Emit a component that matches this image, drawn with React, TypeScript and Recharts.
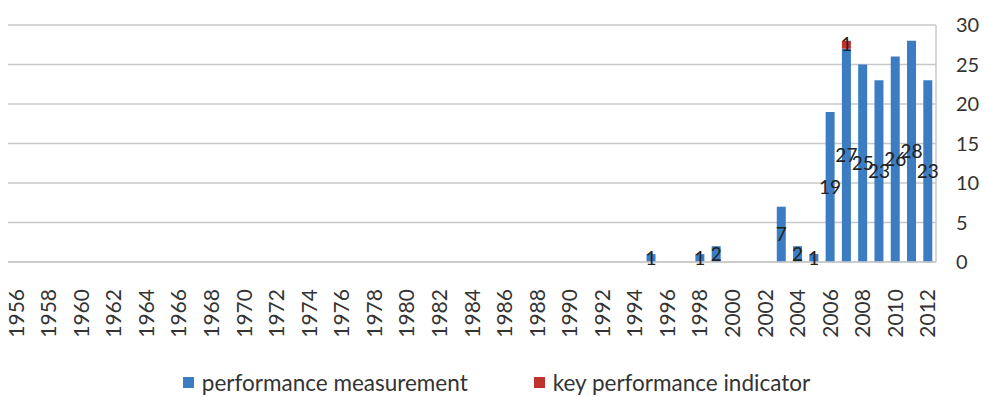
import React from 'react';
import { BarChart, Bar, XAxis, YAxis, CartesianGrid, Legend, LabelList } from 'recharts';

const years = [
  '1956', '1957', '1958', '1959', '1960', '1961', '1962', '1963', '1964', '1965',
  '1966', '1967', '1968', '1969', '1970', '1971', '1972', '1973', '1974', '1975',
  '1976', '1977', '1978', '1979', '1980', '1981', '1982', '1983', '1984', '1985',
  '1986', '1987', '1988', '1989', '1990', '1991', '1992', '1993', '1994', '1995',
  '1996', '1997', '1998', '1999', '2000', '2001', '2002', '2003', '2004', '2005',
  '2006', '2007', '2008', '2009', '2010', '2011', '2012',
];

// Publications per year: performance measurement
const measurement = [
  null, null, null, null, null, null, null, null, null, null,
  null, null, null, null, null, null, null, null, null, null,
  null, null, null, null, null, null, null, null, null, null,
  null, null, null, null, null, null, null, null, null, 1,
  null, null, 1, 2, null, null, null, 7, 2, 1,
  19, 27, 25, 23, 26, 28, 23,
];

// Publications per year: key performance indicator
const kpi = [
  null, null, null, null, null, null, null, null, null, null,
  null, null, null, null, null, null, null, null, null, null,
  null, null, null, null, null, null, null, null, null, null,
  null, null, null, null, null, null, null, null, null, null,
  null, null, null, null, null, null, null, null, null, null,
  null, 1, null, null, null, null, null,
];

const yTicks = [0, 5, 10, 15, 20, 25, 30];

const seriesNames = ['performance measurement', 'key performance indicator'];
const colors = ['#3b7cc3', '#c1312e'];

const data = years.map((y, i) => ({ year: y, pm: measurement[i], kpi: kpi[i] }));

const FONT = 'Lato, "Open Sans", sans-serif';

const YearTick = (props: any) => {
  const { x, y, payload } = props;
  return (
    <text
      x={x}
      y={y}
      transform={`rotate(-90, ${x}, ${y})`}
      textAnchor="end"
      dy="0.36em"
      fontSize={21}
      fontFamily={FONT}
      fill="#333"
    >
      {payload.value}
    </text>
  );
};

const LegendContent = () => (
  <div
    style={{
      height: 45,
      display: 'flex',
      justifyContent: 'center',
      alignItems: 'center',
      fontFamily: FONT,
      fontSize: 22.5,
      lineHeight: '26px',
      color: '#333',
      paddingTop: 16,
      boxSizing: 'border-box',
    }}
  >
    {seriesNames.map((n, i) => (
      <span key={n} style={{ display: 'flex', alignItems: 'center', marginLeft: i ? 66 : 0 }}>
        <span style={{ width: 11, height: 11, background: colors[i], display: 'inline-block', marginRight: 8 }} />
        {n}
      </span>
    ))}
  </div>
);

const fmt = (v: any) => (v ? v : '');

export default function App() {
  return (
    <div style={{ position: 'absolute', left: 0, top: 0, background: '#fff' }}>
      <BarChart
        width={985}
        height={397}
        data={data}
        margin={{ top: 25, right: 0, left: 8, bottom: 0 }}
        barCategoryGap="22%"
      >
        <CartesianGrid vertical={false} stroke="#c8c8c8" strokeWidth={1.5} />
        <XAxis
          dataKey="year"
          interval={1}
          height={90}
          tickLine={false}
          axisLine={{ stroke: '#c8c8c8', strokeWidth: 1.5 }}
          tick={<YearTick />}
          tickMargin={21}
        />
        <YAxis
          orientation="right"
          width={49}
          domain={[0, 30]}
          ticks={yTicks}
          tickLine={false}
          tickSize={0}
          tickMargin={20}
          axisLine={{ stroke: '#c8c8c8', strokeWidth: 1.5 }}
          tick={{ fontSize: 20, fontFamily: FONT, fill: '#333' }}
        />
        <Legend verticalAlign="bottom" content={<LegendContent />} />
        <Bar dataKey="pm" stackId="a" fill={colors[0]} isAnimationActive={false} name={seriesNames[0]}>
          <LabelList dataKey="pm" position="center" formatter={fmt} fontSize={19} fontFamily={FONT} fill="#222" />
        </Bar>
        <Bar dataKey="kpi" stackId="a" fill={colors[1]} isAnimationActive={false} name={seriesNames[1]}>
          <LabelList dataKey="kpi" position="center" formatter={fmt} fontSize={19} fontFamily={FONT} fill="#222" />
        </Bar>
      </BarChart>
    </div>
  );
}
